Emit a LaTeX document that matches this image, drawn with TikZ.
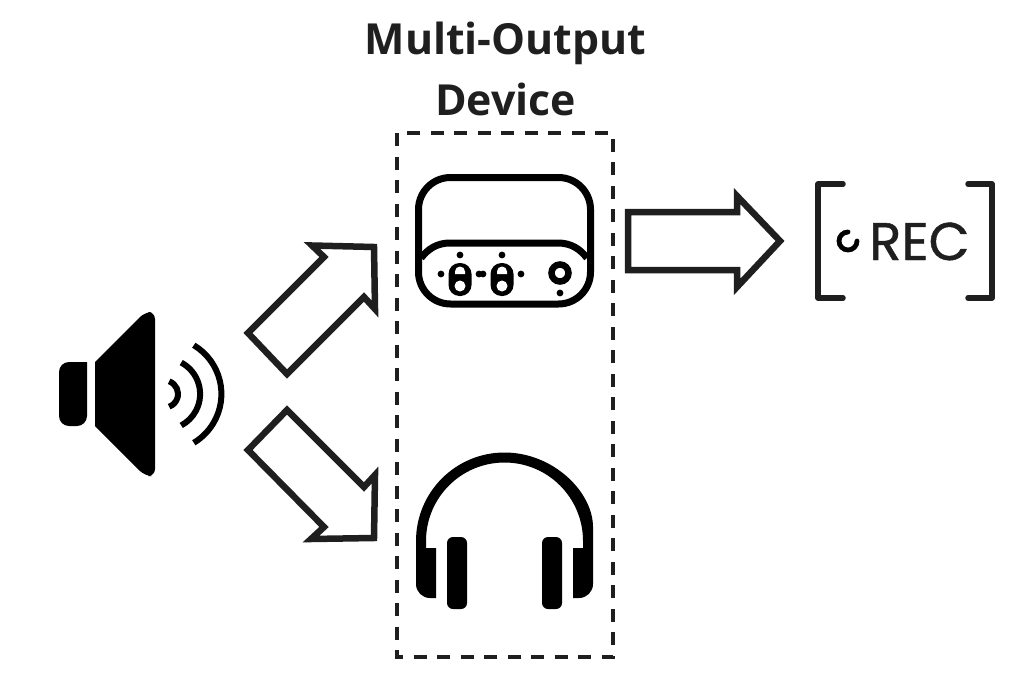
\documentclass[tikz,border=0pt]{standalone}
\usepackage{fontspec}
\setmainfont{Open Sans}
\newfontfamily\recfont[FakeBold=0.9]{Poppins}
\tikzset{
    titletext/.style={font=\bfseries\fontsize{42.8}{42.8}\selectfont, text=black!88, inner sep=0pt, anchor=base},
    rectext/.style={font=\recfont\fontsize{53}{53}\selectfont, text=black!88, inner sep=0pt, anchor=base west},
    blockarrow/.style={draw=black!88, fill=white, line width=6.5pt, miter limit=10},
    iconline/.style={draw=black, line width=7pt},
    bracketline/.style={draw=black!88, line width=5.5pt, line cap=round, line join=round},
    groupbox/.style={draw=black!88, line width=3.2pt, dash pattern=on 13pt off 10.5pt}
}

\begin{document}
\begin{tikzpicture}[x=1pt, y=-1pt]
    \useasboundingbox (0,0) rectangle (1024,682);

    \node[titletext] (title1) at (505.5,55) {Multi-Output};
    \node[titletext] (title2) at (505.5,116) {Device};
    \draw[groupbox] (397,133) rectangle (613,657);

    % speaker
    \fill[rounded corners=10pt] (87,362)--(59,362)--(59,426)--(87,426)[sharp corners]--cycle;
    \fill (95,362)--(95,426)--(140,471)[rounded corners=7pt]--(145,476)--(155,476)--(155,312)--(145,312)[sharp corners]--(140,317)--cycle;
    \foreach \r/\a in {13.5/70,35.6/62,56.9/59}{
        \draw[line width=6pt] (164.5,394)++(-\a:\r) arc[start angle=-\a, end angle=\a, radius=\r];
    }

    % arrows
    \draw[blockarrow] (248,333)--(287,374)--(364,297)--(375,309)--(374,247)--(312,245.5)--(324,257)--cycle;
    \draw[blockarrow] (248,450)--(287,410)--(364,487)--(375,475)--(374,538)--(311,539)--(324,527)--cycle;
    \draw[blockarrow] (628,212)--(737,212)--(737,196)--(780,241)--(737,287)--(737,270)--(628,270)--cycle;

    % interface
    \draw[iconline, rounded corners=32pt] (418.5,177.5) rectangle (590.5,304);
    \draw[iconline] (421,258) .. controls (428,249) and (437,243) .. (450,243)--(558,243) .. controls (571,243) and (580,249) .. (587,258);
    \foreach \x in {460,502}{
        \fill[rounded corners=11pt] (\x-11.5,263) rectangle (\x+11.5,296);
        \fill[white] (\x,286) circle[radius=5.5];
        \fill[white] (\x-5,274)--(\x-5,271.5) arc[start angle=180, end angle=360, radius=5]--(\x+5,274)--cycle;
        \fill (\x,255) circle[radius=3.4];
        \fill (\x-19,274) circle[radius=3.4];
        \fill (\x+19,274) circle[radius=3.4];
    }
    \draw[line width=6.5pt] (560,273) circle[radius=8.5];
    \fill (560,293) circle[radius=3.4];

    % headphones
    \fill (436,598)--(436,548)--(426,548)--(426,541) arc[start angle=180, end angle=360, radius=78.5]--(583,548)--(573,548)--(573,598)[rounded corners=14pt]--(593,598)--(593,541)[sharp corners] arc[start angle=0, end angle=-180, radius=88.5][rounded corners=14pt]--(416,598)[sharp corners]--cycle;
    \foreach \x in {447,542}{
        \fill[rounded corners=6pt] (\x,537) rectangle (\x+20,609);
    }

    % rec
    \draw[bracketline] (843,184)--(818,184)--(818,298)--(843,298);
    \draw[bracketline] (968,184)--(992,184)--(992,298)--(968,298);
    \draw[line width=4.8pt, line cap=round] (848,232) arc[start angle=270, end angle=0, radius=9];
    \node[rectext] (rec) at (869,260) {REC};
\end{tikzpicture}
\end{document}
